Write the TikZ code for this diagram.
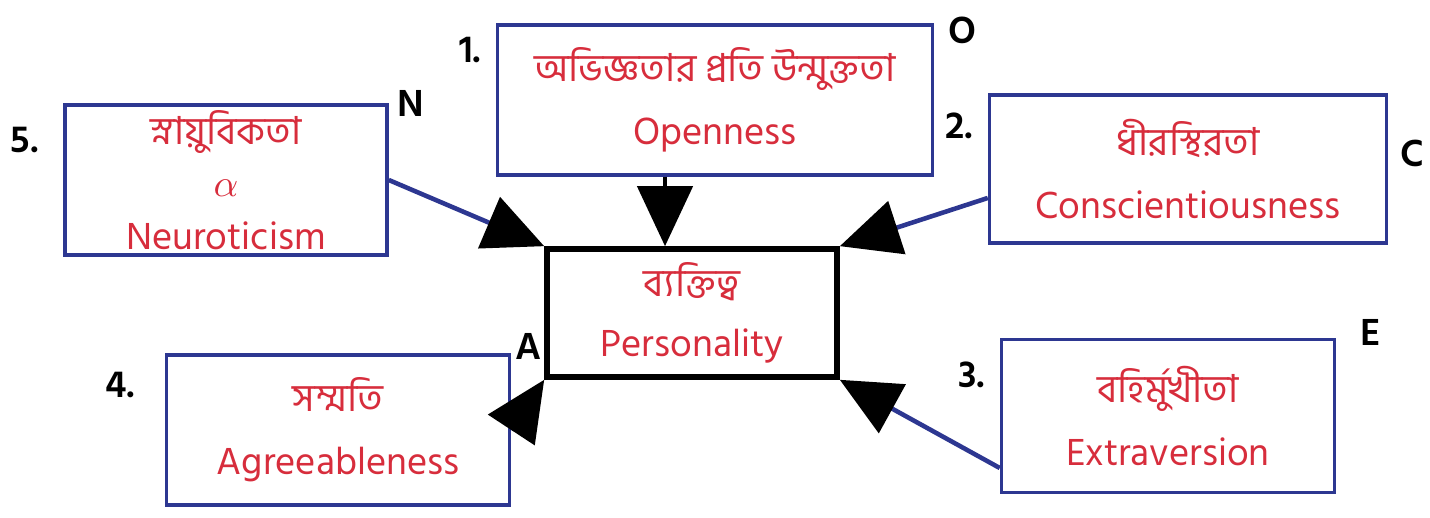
\documentclass[tikz,border=0pt]{standalone}
\usepackage{fontspec}
\setmainfont{Hind Siliguri}
\newfontfamily\bn[Script=Bengali]{Hind Siliguri}
\usetikzlibrary{arrows.meta}
\definecolor{inkblue}{RGB}{45,55,145}
\definecolor{inkred}{RGB}{215,45,60}

\begin{document}
\begin{tikzpicture}[
    trait/.style={draw=inkblue,line width=1pt,text=inkred,align=center,inner sep=0pt,
      minimum height=1.5cm,font=\fontsize{11}{18}\selectfont},
    core/.style={draw=black,line width=1.6pt,text=inkred,align=center,inner sep=0pt,
      minimum width=2.9cm,minimum height=1.28cm,font=\fontsize{11}{17}\selectfont},
    tag/.style={font=\bfseries\fontsize{11}{13}\selectfont,inner sep=1pt},
    feed/.style={inkblue,line width=1.3pt,-{Triangle[length=6mm,width=5.5mm,color=black,fill=black]}}]
  \useasboundingbox (0,0) rectangle (14.3,-5.18);
  % the centre
  \node[core] (pers) at (6.92,-3.13) {{\bn ব্যক্তিত্ব}\\Personality};
  % the five traits
  \node[trait,minimum width=4.35cm] (ope) at (7.15,-1.00) {{\bn অভিজ্ঞতার প্রতি উন্মুক্ততা}\\Openness};
  \node[trait,minimum width=3.22cm,font=\fontsize{11}{15}\selectfont] (neu) at (2.26,-1.80) {{\bn স্নায়ুবিকতা}\\$\alpha$\\Neuroticism};
  \node[trait,minimum width=3.97cm,minimum height=1.48cm] (con) at (11.88,-1.69) {{\bn ধীরস্থিরতা}\\Conscientiousness};
  \node[trait,minimum width=3.43cm] (agr) at (3.38,-4.30) {{\bn সম্মতি}\\Agreeableness};
  \node[trait,minimum width=3.33cm,minimum height=1.53cm] (ext) at (11.68,-4.16) {{\bn বহির্মুখীতা}\\Extraversion};
  % numbers and letters
  \node[tag,anchor=north east] (n1) at ([xshift=-1mm,yshift=-1mm]ope.north west) {1.};
  \node[tag,anchor=north west] (lo) at ([xshift=1mm,yshift=1mm]ope.north east) {O};
  \node[tag,anchor=north east] (n2) at ([xshift=-1mm,yshift=-1.5mm]con.north west) {2.};
  \node[tag,anchor=west] (lc) at ([xshift=0.8mm,yshift=-6mm]con.north east) {C};
  \node[tag,anchor=north east] (n3) at ([xshift=-1mm,yshift=-2mm]ext.north west) {3.};
  \node[tag,anchor=west] (le) at ([xshift=2mm,yshift=0.5mm]ext.north east) {E};
  \node[tag,anchor=north east] (n4) at ([xshift=-2.5mm,yshift=-1.5mm]agr.north west) {4.};
  \node[tag,anchor=south west] (la) at ([xshift=0mm,yshift=-1mm]agr.north east) {A};
  \node[tag,anchor=north east] (n5) at ([xshift=-2mm,yshift=-2mm]neu.north west) {5.};
  \node[tag,anchor=west] (ln) at ([xshift=0.5mm]neu.north east) {N};
  % arrows into the centre
  \coordinate (otip) at ([xshift=-2.7mm]pers.north);
  \draw[feed,black] (otip |- ope.south) -- (otip);
  \draw[feed] (neu.east) -- (pers.north west);
  \draw[feed] ([yshift=-2.9mm]con.west) -- (pers.north east);
  \draw[feed] (agr.east) -- (pers.south west);
  \draw[feed] ([yshift=-5.2mm]ext.west) -- (pers.south east);
\end{tikzpicture}
\end{document}
